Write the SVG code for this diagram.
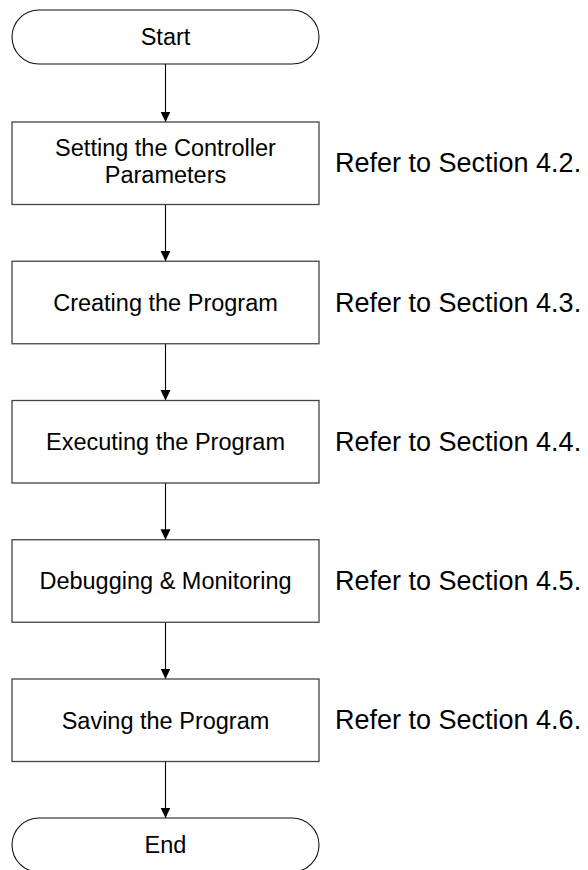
<svg xmlns="http://www.w3.org/2000/svg" width="588" height="870" viewBox="0 0 588 870">
  <defs>
    <marker id="arrow" markerUnits="userSpaceOnUse" markerWidth="11" markerHeight="12" refX="10.5" refY="5" orient="auto">
      <path d="M0,0 L10.5,5 L0,10 Z" fill="#000"/>
    </marker>
  </defs>
  <style>
    .term { fill: #fff; stroke: #111; stroke-width: 1.1; }
    .box { fill: #fff; stroke: #444; stroke-width: 1.3; }
    .lbl { font-family: "Liberation Sans", Arial, sans-serif; font-size: 23.5px; fill: #000; text-anchor: middle; }
    .ref { font-family: "Liberation Sans", Arial, sans-serif; font-size: 27px; fill: #000; }
    .conn { stroke: #000; stroke-width: 1.1; fill: none; marker-end: url(#arrow); }
  </style>

  <rect width="588" height="870" fill="#fff"/>

  <g id="connectors">
    <line class="conn" x1="165.5" y1="64" x2="165.5" y2="122"/>
    <line class="conn" x1="165.5" y1="204.5" x2="165.5" y2="261.25"/>
    <line class="conn" x1="165.5" y1="343.75" x2="165.5" y2="400.5"/>
    <line class="conn" x1="165.5" y1="483" x2="165.5" y2="539.75"/>
    <line class="conn" x1="165.5" y1="622.25" x2="165.5" y2="679"/>
    <line class="conn" x1="165.5" y1="761.5" x2="165.5" y2="818"/>
  </g>

  <g id="start">
    <rect class="term" x="12" y="10" width="307" height="54" rx="27" ry="27"/>
    <text class="lbl" x="165.5" y="45">Start</text>
  </g>

  <g id="step-parameters">
    <rect class="box" x="12" y="122" width="307" height="82.5"/>
    <text class="lbl" x="165.5" y="156">Setting the Controller</text>
    <text class="lbl" x="165.5" y="183.3">Parameters</text>
  </g>
  <text class="ref" x="335" y="171.7">Refer to Section 4.2.</text>

  <g id="step-create">
    <rect class="box" x="12" y="261.25" width="307" height="82.5"/>
    <text class="lbl" x="165.5" y="310.9">Creating the Program</text>
  </g>
  <text class="ref" x="335" y="311.7">Refer to Section 4.3.</text>

  <g id="step-execute">
    <rect class="box" x="12" y="400.5" width="307" height="82.5"/>
    <text class="lbl" x="165.5" y="450.1">Executing the Program</text>
  </g>
  <text class="ref" x="335" y="450.9">Refer to Section 4.4.</text>

  <g id="step-debug">
    <rect class="box" x="12" y="539.75" width="307" height="82.5"/>
    <text class="lbl" x="165.5" y="589.4">Debugging &amp; Monitoring</text>
  </g>
  <text class="ref" x="335" y="590.2">Refer to Section 4.5.</text>

  <g id="step-save">
    <rect class="box" x="12" y="679" width="307" height="82.5"/>
    <text class="lbl" x="165.5" y="728.6">Saving the Program</text>
  </g>
  <text class="ref" x="335" y="729.4">Refer to Section 4.6.</text>

  <g id="end">
    <rect class="term" x="12" y="818" width="307" height="54" rx="27" ry="27"/>
    <text class="lbl" x="165.5" y="853">End</text>
  </g>
</svg>
